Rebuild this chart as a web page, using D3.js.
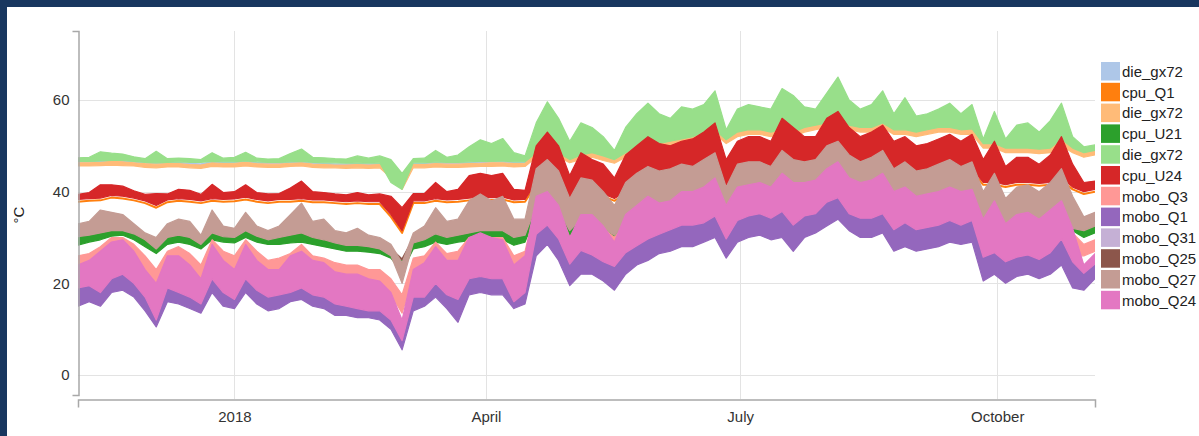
<!DOCTYPE html>
<html><head><meta charset="utf-8">
<script src="https://cdn.jsdelivr.net/npm/d3@7"></script>
<style>
html,body{margin:0;padding:0;background:#18375f;}
svg{display:block;}
text{font-family:"Liberation Sans",Arial,Helvetica,sans-serif;}
</style></head><body>
<svg id="chart" width="1199" height="436"></svg>
<script>
// ---------------- data ----------------
const startDate = "2017-11-06";   // first sample
const stepDays = 4;               // sampling interval of the arrays below
const yTicks = [0, 20, 40, 60];
const yUnit = "°C";

const seriesNames  = ["die_gx72","cpu_Q1","die_gx72","cpu_U21","die_gx72","cpu_U24","mobo_Q3","mobo_Q1","mobo_Q31","mobo_Q25","mobo_Q27","mobo_Q24"];
const seriesColors = ["#aec7e8","#ff7f0e","#ffbb78","#2ca02c","#98df8a","#d62728","#ff9896","#9467bd","#c5b0d5","#8c564b","#c49c94","#e377c2"];

// die_gx72 (blue) – mostly hidden
const dieBlue = [46.5,46.5,46.6,46.8,46.7,46.5,46.3,46.2,46.3,46.3,46.1,46,46.5,46.3,46.4,46.6,46.3,46.2,46.2,
 46.4,46.5,46.2,46.1,46,46,46.1,46,46.1,44.5,42,46.1,46.1,46.3,46.2,46.2,46.3,46.4,46.5,46.5,46.3,46.4,
 48.7,49.2,48.7,47.4,48.2,48.7,48,47.2,48.7,49.7,50.2,50.7,51.2,51.7,52.2,53.2,53.7,51.7,53.2,53.7,
 53.7,53.2,53.9,53.2,54.2,54.7,55.2,55.7,54.7,54.2,54.2,55.2,53.7,53.7,53.2,53.7,54.2,54.2,53.7,53.9,
 50.7,50.7,49.7,49.7,49.7,49.5,49.7,51.7,49.7,48.7,49.2];
// cpu_Q1 – just under cpu_U24
const cpuQ1 = [37.8,38,38.1,38.7,38.5,38.1,37.5,36.5,37.7,38,37.8,37.5,38,37.8,37.9,38.3,37.8,37.5,37.8,
 37.8,38,37.7,37.7,37.5,37.3,37.5,37.3,37.3,34.5,31,37.5,37.5,38,37.7,37.8,38.1,38.3,38.2,38.3,37.7,37.8,
 41.5,42.5,41,38,40,40.5,39,38,39.5,41,41.5,42,42.5,43.5,43.5,44.5,45,40.5,44.5,44.5,
 45,44.5,45.5,43.5,44.5,45,46.5,47.5,45.5,45,44.5,45.5,43.5,44.5,44,44,44.5,44.5,44,44.5,
 41.5,41.5,41,41.5,41.5,41.3,41.5,42.5,40.5,39.5,40];
// die_gx72 (orange) daily low / high
const dieOrangeLo = [45.6,45.6,45.7,45.8,45.7,45.6,45.3,45.2,45.4,45.4,45.2,45.1,45.5,45.4,45.4,45.6,45.4,45.3,45.3,
 45.5,45.6,45.3,45.2,45.2,45.1,45.2,45.1,45.2,43,40.5,45.2,45.2,45.4,45.3,45.3,45.4,45.5,45.5,45.6,45.4,45.5,
 47.5,48,47.5,46.3,47,47.5,46.8,46.2,47.5,48.5,49,49.5,50,50.5,51,52,52.5,50.5,52,52.5,
 52.5,52,52.5,52,53,53.5,54,54.5,53.5,53,53,54,52.5,52.5,52,52.5,53,53,52.5,52.5,
 49.5,49.5,48.5,48.5,48.5,48.3,48.5,50,48.5,47.5,48];
const dieOrangeHi = [46.3,46.3,46.4,46.6,46.5,46.3,46.1,46,46.1,46.1,45.9,45.8,46.3,46.1,46.2,46.4,46.1,46,46,
 46.2,46.3,46,45.9,45.8,45.8,45.9,45.8,45.9,45.7,44,45.9,45.9,46.1,46,46,46.1,46.2,46.3,46.3,46.1,46.2,
 48.5,49,48.5,47.2,48,48.5,47.8,47,48.5,49.5,50,50.5,51,51.5,52,53,53.5,51.5,53,53.5,
 53.5,53,53.7,53,54,54.5,55,55.5,54.5,54,54,55,53.5,53.5,53,53.5,54,54,53.5,53.7,
 50.5,50.5,49.5,49.5,49.5,49.3,49.5,51.5,49.5,48.5,49];
// cpu_U21
const cpuU21Lo = [28.3,29,29.5,30.3,30.5,29.5,28,26.5,28.5,29,28.5,27.5,29.5,29,28.8,30,29,28.5,28.5,
 28.8,29,28.5,28,27.5,27,27,26.8,26.5,25.5,22.5,27.5,28,29,28.5,29,29.3,29.5,29.5,29.5,28.3,29,
 35,36,34.5,30,32.5,33,31,30,32,33.5,34.5,34.5,35,35.5,36,36.5,37,34,36,36.5,
 37,36.5,37,36,36.5,37,38,38.5,37.5,37,37,37.5,36,36,35.5,35.5,36,36,36,36,
 33,33.5,32,32.5,32.5,32,32.5,33.5,31.5,30,31];
const cpuU21Hi = [30.5,31,32,32,32.2,31.5,30,29,30.5,31,30.5,29.5,32,31,30.8,32.3,31,30.5,30.5,
 30.8,31.3,30.5,29.8,29,28.5,28.5,28.3,28,27.3,25,29.5,30,31,30.5,31,31.3,31.5,31.5,31.5,30.5,31,
 38,39,37.5,33,36,36.5,34.5,32.5,35,36.5,37.5,37.5,38,38.5,39,39,40,37,39,39,
 39.5,39,40,39,39.5,40,41,41.5,40.5,40,40,40.5,39,39,38.5,38.5,39,39,39,39,
 36,36.5,35,35.5,35.5,35,35.5,36.5,34.5,32.5,33.5];
// die_gx72 (green)
const dieGreenLo = [46.6,46.6,46.7,46.8,46.8,46.6,46.4,46.3,46.4,46.5,46.4,46.4,46.6,46.5,46.5,46.7,46.5,46.4,46.4,
 46.5,46.6,46.4,46.3,46.3,46.2,46.3,46.2,46.3,42,40.5,46.3,46.3,46.5,46.4,46.4,46.5,46.6,46.6,46.7,46.5,46.5,
 48.5,49,48.5,47,48,48.5,47.8,47,48.5,49.5,50,50.5,51,51.5,52,53,53.5,51.3,53,53.5,
 53.5,53,53.7,53,54,54.5,55,55.5,54.5,54,54,55,53.5,53.5,53,53.5,54,54,53.5,53.7,
 50.5,50.5,49.5,49.5,49.5,49.3,49.5,51.5,49.5,48.5,49];
const dieGreenHi = [47.4,47.5,48.7,48.4,48.2,47.6,47.2,48.8,47.2,47.3,47.2,47,48.5,47.3,47.5,48.6,47.3,47.1,47.2,
 48.3,49.3,47.5,47.4,47.2,47.1,47.8,47.3,47.8,47,44,47.2,47.3,49,47.5,48,49.8,51.3,50.5,51.6,48.5,47.8,
 55,59.6,56,51,55,54,52,49,54,57,59.3,57,56,58.5,58,59,62,53.5,58,59,
 58.5,58,62.5,61,58.5,58,61.5,65,60,58,59,62,57,60.5,56.5,57,58,59.3,57,59,
 51.5,57.5,51.5,54.5,55,53,55.5,59.3,52,49.8,50.2];
// cpu_U24
const cpuU24Lo = [38.3,38.5,38.6,39.2,39,38.6,38,37,38.2,38.5,38.3,38,38.5,38.3,38.4,38.8,38.3,38,38.3,
 38.3,38.5,38.2,38.2,38,37.8,38,37.8,37.8,35,31.5,38,38,38.5,38.2,38.3,38.6,38.8,38.7,38.8,38.2,38.3,
 42,43,41.5,38.5,40.5,41,39.5,38.5,40,41.5,42,42.5,43,44,44,45,45.5,41,45,45,
 45.5,45,46,44,45,45.5,47,48,46,45.5,45,46,44,45,44.5,44.5,45,45,44.5,45,
 42,42,41.5,42,42,41.8,42,43,41,40,40.5];
const cpuU24Hi = [39.4,39.8,41.5,41.5,41.2,40.2,39.4,39.6,39.5,40.5,40.3,39.4,41.6,39.8,40,41.5,39.8,39.5,39.6,
 40.8,42.3,40,39.8,39.5,39.3,39.8,39.3,39.5,39,36.5,39.6,39.6,42,40,40.5,43.5,44,43.5,44,40.5,40.3,
 50,53,50,43.5,48.5,47,46,43,48,50,52,50.5,50,51,51.5,53,55,47,51,52,
 52,51,56,54,52,52,56,57.5,54,52,53,54.5,51,52,50,50.5,51.5,52.5,51,52.5,
 47,51,45.5,47.5,47.5,46,48,52,46,42,42.3];
// mobo_Q3
const moboQ3Lo = [23,23.5,23,25,25.5,24,22,18,23,23,22,20,24,22.5,21.5,24.5,22.5,21.5,22,
 22.5,23,22,21.5,20.5,20,19.5,19,19,17.5,13.5,21.5,21.5,23.5,22,22,24,24.5,24,24,21,22,
 33,34,31,25,29,29.5,27,25,28,30,31,31,32,33,33,33,34,31,33,33.5,
 34,33.5,34.5,32,34,34.5,36,37,35,34,34,35,33,33,32,32.5,33,33.5,33,33,
 27,30,26,27.5,28,27,28,30,26,26,27];
const moboQ3Hi = [26,26.5,28,30,30,28.5,26,23,27,28,26.5,24,29.5,27,26,29.5,27,25,25.5,
 26.5,28.5,26,25.5,24.5,24,24,23,23,21,17.5,25.5,26,29,26.5,27,30,30.5,30,30,26,27,
 37,38,36,30,34,34.5,32,30,33,35,36,36.5,37,38,38,38,39,35,37.5,38,
 38.5,38,39.5,37,38,39,41,42,40,39,39,40,37.5,38,37,37,37.5,38,37.5,38,
 33,35,31,33,33,32,33,35,31,28.5,29.5];
// mobo_Q1
const moboQ1Lo = [15,16,15,18,18.5,17,14,10.5,16,15.5,14.5,13.5,18,15,14.5,18,15.5,14,14.5,
 16,16.5,15,14.5,13,13,12.5,12.5,12,10,5.5,14,15,17,14.5,11.5,17.5,18,17.5,17.5,14.5,15.5,
 26,28.5,25,19.5,22,22,20.5,18.5,22,24,25,26.5,27,28,28,29,30,25.5,29,30,
 30.5,29.5,30,27,30,31,32.5,34,31.5,30,30,31,27,28,27,27.5,28,29,28.5,29,
 20.5,22,20,21.5,22,21,22,24,19,18.5,21];
const moboQ1Hi = [19,20,20,23,23.5,21,18,15,20,20,19,17,23,19.5,18.5,22.5,20,18,18,
 20.5,21,19.5,19,17.5,17,17,16.5,16,14,9,19,19.5,21.5,19.5,17,22.5,23,22.5,22,19,20,
 31,33,30,24.5,27.5,26.5,25,24,27,28.5,30,31,32,33,33,33.5,35,30,34,35,
 35.5,34.5,36,33,35,35.5,38,39,35.5,34.5,34.5,35.5,32,33.5,32,32.5,33,34,33,34,
 26,27,25,26,26.5,25.5,27,30,25,22.5,24.5];
// mobo_Q31 – thin edge over mobo_Q1
const moboQ31 = [19.6,20.6,20.6,23.6,24.1,21.6,18.6,15.6,20.6,20.6,19.6,17.6,23.6,20.1,19.1,23.1,20.6,18.6,18.6,
 21.1,21.6,20.1,19.6,18.1,17.6,17.6,17.1,16.6,14.6,9.6,19.6,20.1,22.1,20.1,17.6,23.1,23.6,23.1,22.6,19.6,20.6,
 31.6,33.6,30.6,25.1,28.1,27.1,25.6,24.6,27.6,29.1,30.6,31.6,32.6,33.6,33.6,34.1,35.6,30.6,34.6,35.6,
 36.1,35.1,36.6,33.6,35.6,36.1,38.6,39.6,36.1,35.1,35.1,36.1,32.6,34.1,32.6,33.1,33.6,34.6,33.6,34.6,
 26.6,27.6,25.6,26.6,27.1,26.1,27.6,30.6,25.6,23.1,25.1];
// mobo_Q25 – thin edge under mobo_Q27
const moboQ25 = [30.7,31.2,32.2,32.2,32.4,31.7,30.2,29.2,30.7,31.2,30.7,29.7,32.2,31.2,31,32.5,31.2,30.7,30.7,
 31,31.5,30.7,30,29.2,28.7,28.7,28.5,28.2,27.5,25.2,29.7,30.2,31.2,30.7,31.2,31.5,31.7,31.7,31.7,30.7,31.2,
 38.2,39.2,37.7,33.2,36.2,36.7,34.7,32.7,35.2,36.7,37.7,37.7,38.2,38.7,39.2,39.2,40.2,37.2,39.2,39.2,
 39.7,39.2,40.2,39.2,39.7,40.2,41.2,41.7,40.7,40.2,40.2,40.7,39.2,39.2,38.7,38.7,39.2,39.2,39.2,39.2,
 36.2,36.7,35.2,35.7,35.7,35.2,35.7,36.7,34.7,32.7,33.7];
// mobo_Q27
const moboQ27Lo = [30.2,30.5,31,31.5,31.5,30.8,29.5,27.5,30,30.5,30,28.5,31,30.2,30,31.5,30.3,29.5,30,
 30.5,31,30,29.5,28.8,28.3,28.3,28,27.5,26,20,28.8,29.5,30.8,30,30.5,31,31.5,31.5,31.5,30,30.5,
 37,38,36,31.5,34,34,32,30.5,33,34.5,36,36,36.5,37,37.5,38,39,35,38,38.5,
 38.5,38,40,37,38.5,39,41,42,40,39,39,40,37.5,38,37,37.5,38,38.5,38,38.5,
 33,35,32,33.5,33.5,33,34,35.5,32,31.5,32.5];
const moboQ27Hi = [33,33.5,36,35.5,35,33,31,30,33,34,33.5,30.5,36,32.5,32,35.5,32.5,31.5,32.5,
 35,37.5,33.5,34,31.5,31,32,30.5,30,28.5,24.5,31,32.5,36.5,33.5,34,38,39.5,38,39,34,34,
 45,47,44.5,38.5,43,42.5,40,37,42,44,45.5,44.5,45,46,45.5,47,48.5,41,46,46.5,
 46.5,45.5,49,47,46.5,47,50,51,48,46.5,47.5,49,45,46.5,44.5,45,46,47,45.5,46.5,
 40,44,38.5,41,41.5,40,42,45,39,34.5,35.5];
// mobo_Q24
const moboQ24Lo = [19,19.5,18,21,22,20,17,12,19,18,17,15.5,21,18,16.5,21,18.5,17,17.5,
 18,19,17.5,17,15.5,15,14.5,14,14,12,7.5,17,17,20,17.5,16.5,21,21.5,21,21,16,18,
 30.7,32.7,29.7,24.2,27.2,26.2,24.7,23.7,26.7,28.2,29.7,30.7,31.7,32.7,32.7,33.2,34.7,29.7,33.7,34.7,
 35.2,34.2,35.7,32.7,34.7,35.2,37.7,38.7,35.2,34.2,34.2,35.2,31.7,33.2,31.7,32.2,32.7,33.7,32.7,33.7,
 25.7,26.7,24.7,25.7,26.2,25.2,26.7,29.7,24.7,22.2,24.2];
const moboQ24Hi = [24,25,27,29,29.5,27,23,20,26,26,24,21,28.5,25,23,28.5,25,23,23,
 26,27,25,24.5,22.5,22,22,21,20.5,18,12,23,24.5,28,25,25,30,31,30,29.5,24,26,
 39,40,37,30,35,35,32.5,29,35,37,39,37.5,38,40,40,41,43,37,41,41.5,
 42,41,44,42,42,42.5,45,46.5,43,42,42.5,44,40,41,39,39.5,40,41,40,40.5,
 34,38,33,35,35.5,34,36,38,32,24,26.5];

// series in drawing / legend order
const seriesData = [
  {lo: dieBlue,     hi: dieBlue},
  {lo: cpuQ1,       hi: cpuQ1},
  {lo: dieOrangeLo, hi: dieOrangeHi},
  {lo: cpuU21Lo,    hi: cpuU21Hi},
  {lo: dieGreenLo,  hi: dieGreenHi},
  {lo: cpuU24Lo,    hi: cpuU24Hi},
  {lo: moboQ3Lo,    hi: moboQ3Hi},
  {lo: moboQ1Lo,    hi: moboQ1Hi},
  {lo: moboQ31,     hi: moboQ31},
  {lo: moboQ25,     hi: moboQ25},
  {lo: moboQ27Lo,   hi: moboQ27Hi},
  {lo: moboQ24Lo,   hi: moboQ24Hi}
];

// ---------------- chart ----------------
const W = 1199, H = 436;
const plot = {left: 78, right: 1095, top: 31, bottom: 395};
const xAxisY = 399;

const svg = d3.select("#chart");
svg.append("rect").attr("x", 7).attr("y", 7).attr("width", W - 7).attr("height", H - 7).attr("fill", "#fff");

const t0 = d3.timeParse("%Y-%m-%d")(startDate);
const dates = d3.range(dieBlue.length).map(i => d3.timeDay.offset(t0, i * stepDays));

const x = d3.scaleTime().domain([t0, d3.timeDay.offset(t0, 364)]).range([plot.left, plot.right]);
const y = d3.scaleLinear().domain([-4.36, 75.05]).range([plot.bottom, plot.top]);

const xTicks = x.ticks(d3.timeMonth.every(3));

// grid
const grid = svg.append("g").attr("stroke", "#e3e3e3").attr("stroke-width", 1);
grid.selectAll("line.h").data(yTicks).join("line")
  .attr("x1", plot.left).attr("x2", plot.right)
  .attr("y1", d => Math.round(y(d)) + 0.5).attr("y2", d => Math.round(y(d)) + 0.5);
grid.selectAll("line.v").data(xTicks).join("line")
  .attr("x1", d => Math.round(x(d)) + 0.5).attr("x2", d => Math.round(x(d)) + 0.5)
  .attr("y1", plot.top).attr("y2", xAxisY);

// clip
svg.append("clipPath").attr("id", "clip").append("rect")
  .attr("x", plot.left).attr("y", plot.top).attr("width", plot.right - plot.left).attr("height", plot.bottom - plot.top);

const area = d3.area()
  .x((d, i) => x(dates[i]))
  .y0(d => y(d[0])).y1(d => y(d[1]))
  .curve(d3.curveLinear);
const line = d3.line().x((d, i) => x(dates[i])).y(d => y(d)).curve(d3.curveLinear);

const marks = svg.append("g").attr("clip-path", "url(#clip)");
seriesData.forEach((s, si) => {
  const col = seriesColors[si];
  if (s.lo === s.hi) {
    marks.append("path").attr("d", line(s.lo)).attr("fill", "none")
      .attr("stroke", col).attr("stroke-width", 2).attr("stroke-linejoin", "round");
  } else {
    const pts = s.lo.map((v, i) => [v, s.hi[i]]);
    marks.append("path").attr("d", area(pts)).attr("fill", col)
      .attr("stroke", col).attr("stroke-width", 1.2).attr("stroke-linejoin", "round");
  }
});

// axes
const yAxis = d3.axisLeft(y).tickValues(yTicks).tickSizeInner(0).tickSizeOuter(6).tickPadding(9);
const gy = svg.append("g").attr("transform", `translate(${plot.left + 0.5},0)`).call(yAxis);
const xAxis = d3.axisBottom(x).tickValues(xTicks).tickSizeInner(0).tickSizeOuter(8).tickPadding(12);
const gx = svg.append("g").attr("transform", `translate(0,${xAxisY + 0.5})`).call(xAxis);
[gx, gy].forEach(g => {
  g.select(".domain").attr("stroke", "#a8a8a8").attr("stroke-width", 1.5);
  g.selectAll(".tick text").attr("fill", "#333").style("font-size", "15px")
    .style("font-family", '"Liberation Sans",Arial,sans-serif');
});

svg.append("text").attr("transform", "translate(24,215) rotate(-90)")
  .attr("text-anchor", "middle").attr("fill", "#222").style("font-size", "15px").text(yUnit);

// legend
const lg = svg.append("g").attr("transform", "translate(1101,62)");
const rows = lg.selectAll("g").data(seriesNames).join("g")
  .attr("transform", (d, i) => `translate(0,${i * 20.8})`);
rows.append("rect").attr("width", 19).attr("height", 18.5).attr("fill", (d, i) => seriesColors[i]);
rows.append("text").attr("x", 21).attr("y", 9.5).attr("dy", "0.35em")
  .attr("fill", "#222").style("font-size", "15px").text(d => d);
</script>
</body></html>
